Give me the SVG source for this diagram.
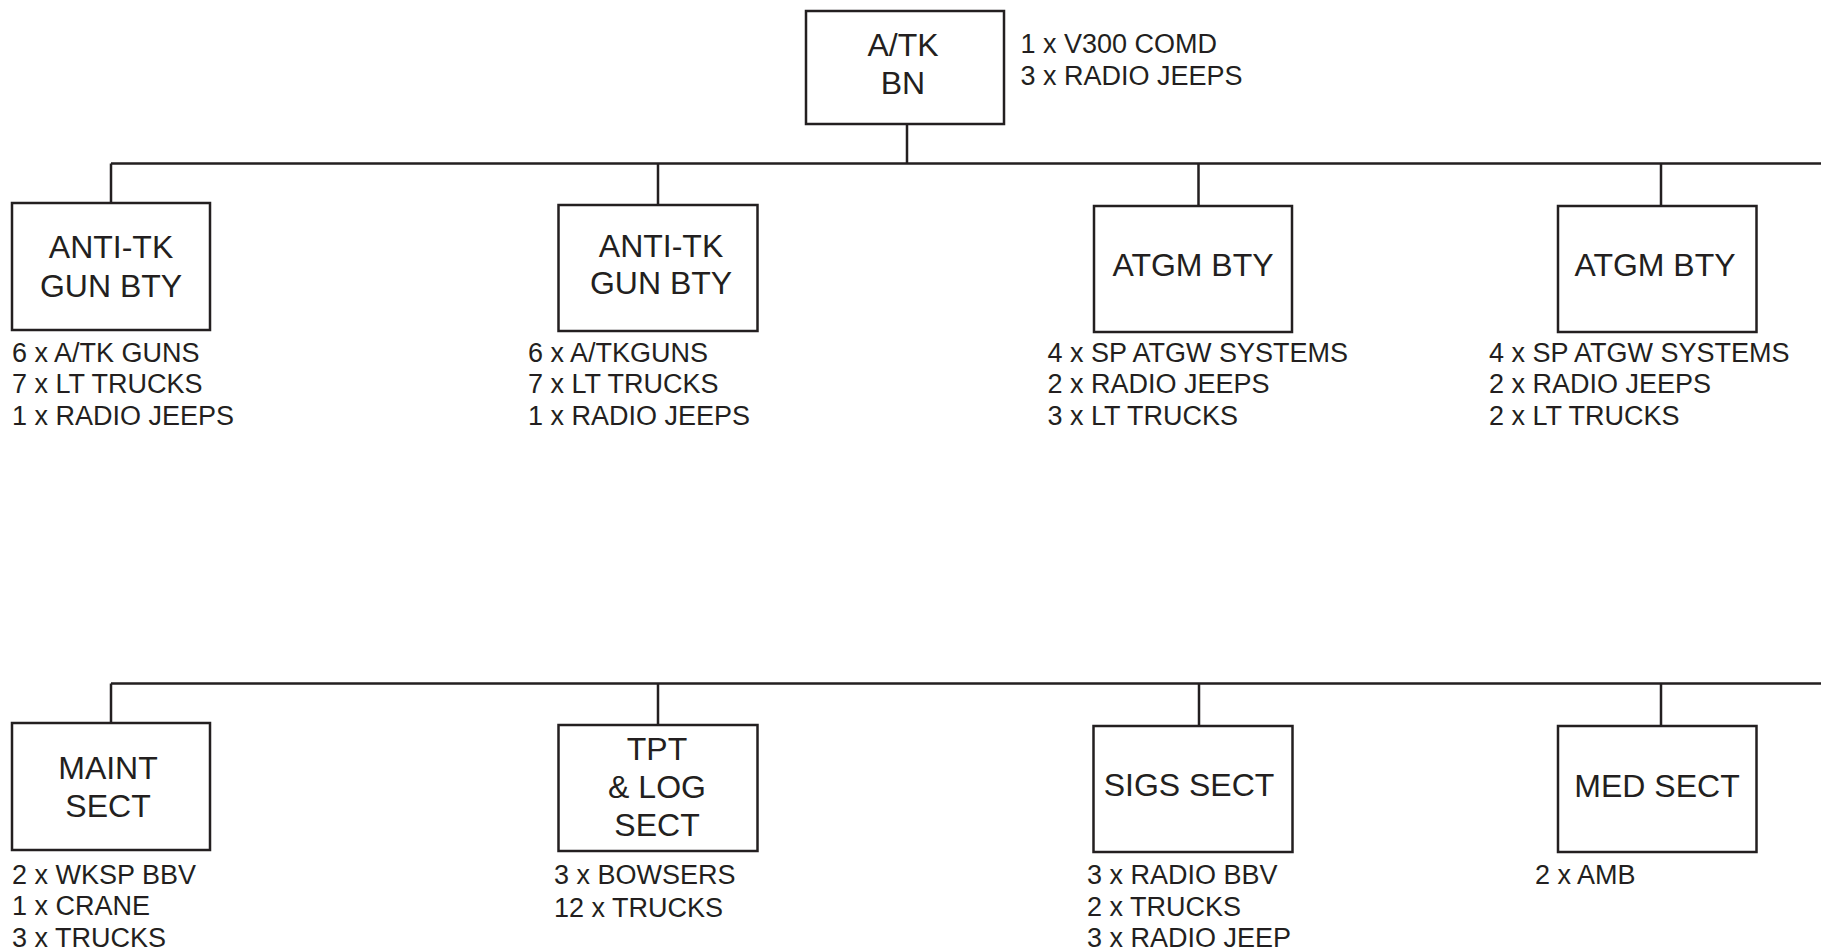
<svg xmlns="http://www.w3.org/2000/svg" width="1821" height="952" viewBox="0 0 1821 952">
<style>
.box{fill:#fff;stroke:#231f20;stroke-width:2.5}
.ln{fill:none;stroke:#231f20;stroke-width:2.5}
.lbl{font-family:"Liberation Sans",Arial,sans-serif;font-size:32px;fill:#231f20;text-anchor:middle}
.det{font-family:"Liberation Sans",Arial,sans-serif;font-size:27px;fill:#231f20}
</style>
<rect width="1821" height="952" fill="#fff"/>
<g id="connectors">
<path class="ln" d="M907 124V163.5M111 163.5H1821M111 163.5V203M658 163.5V205M1198.5 163.5V206M1661 163.5V206"/>
<path class="ln" d="M111 683.5H1821M111 683.5V723M658 683.5V725M1199 683.5V726M1661 683.5V726"/>
</g>
<g id="atk-bn">
<rect class="box" x="806" y="11" width="198" height="113"/>
<text class="lbl" x="903" y="55.7">A/TK</text>
<text class="lbl" x="903" y="94">BN</text>
<text class="det" x="1020.5" y="53.3">1 x V300 COMD</text>
<text class="det" x="1020.5" y="84.5">3 x RADIO JEEPS</text>
</g>
<g id="anti-tk-1">
<rect class="box" x="12" y="203" width="198" height="127"/>
<text class="lbl" x="111" y="258.3">ANTI-TK</text>
<text class="lbl" x="111" y="296.7">GUN BTY</text>
<text class="det" x="12" y="361.5">6 x A/TK GUNS</text>
<text class="det" x="12" y="393">7 x LT TRUCKS</text>
<text class="det" x="12" y="424.8">1 x RADIO JEEPS</text>
</g>
<g id="anti-tk-2">
<rect class="box" x="558.5" y="205" width="199" height="126"/>
<text class="lbl" x="661" y="256.5">ANTI-TK</text>
<text class="lbl" x="661" y="294">GUN BTY</text>
<text class="det" x="528" y="361.5">6 x A/TKGUNS</text>
<text class="det" x="528" y="393">7 x LT TRUCKS</text>
<text class="det" x="528" y="424.8">1 x RADIO JEEPS</text>
</g>
<g id="atgm-1">
<rect class="box" x="1094" y="206" width="198" height="126"/>
<text class="lbl" x="1193" y="276">ATGM BTY</text>
<text class="det" x="1047.5" y="361.5">4 x SP ATGW SYSTEMS</text>
<text class="det" x="1047.5" y="393">2 x RADIO JEEPS</text>
<text class="det" x="1047.5" y="424.8">3 x LT TRUCKS</text>
</g>
<g id="atgm-2">
<rect class="box" x="1558" y="206" width="198.5" height="126"/>
<text class="lbl" x="1655" y="276">ATGM BTY</text>
<text class="det" x="1489" y="361.5">4 x SP ATGW SYSTEMS</text>
<text class="det" x="1489" y="393">2 x RADIO JEEPS</text>
<text class="det" x="1489" y="424.8">2 x LT TRUCKS</text>
</g>
<g id="maint-sect">
<rect class="box" x="12" y="723" width="198" height="127"/>
<text class="lbl" x="108" y="779">MAINT</text>
<text class="lbl" x="108" y="816.7">SECT</text>
<text class="det" x="12" y="883.5">2 x WKSP BBV</text>
<text class="det" x="12" y="915">1 x CRANE</text>
<text class="det" x="12" y="946.5">3 x TRUCKS</text>
</g>
<g id="tpt-log-sect">
<rect class="box" x="558.5" y="725" width="199" height="126"/>
<text class="lbl" x="657" y="760">TPT</text>
<text class="lbl" x="657" y="798.3">&amp; LOG</text>
<text class="lbl" x="657" y="836">SECT</text>
<text class="det" x="554" y="884">3 x BOWSERS</text>
<text class="det" x="554" y="916.5">12 x TRUCKS</text>
</g>
<g id="sigs-sect">
<rect class="box" x="1093.5" y="726" width="199" height="126"/>
<text class="lbl" x="1189" y="796">SIGS SECT</text>
<text class="det" x="1087" y="884">3 x RADIO BBV</text>
<text class="det" x="1087" y="915.7">2 x TRUCKS</text>
<text class="det" x="1087" y="947.3">3 x RADIO JEEP</text>
</g>
<g id="med-sect">
<rect class="box" x="1558" y="726" width="198.5" height="126"/>
<text class="lbl" x="1657" y="797">MED SECT</text>
<text class="det" x="1535" y="884">2 x AMB</text>
</g>
</svg>
